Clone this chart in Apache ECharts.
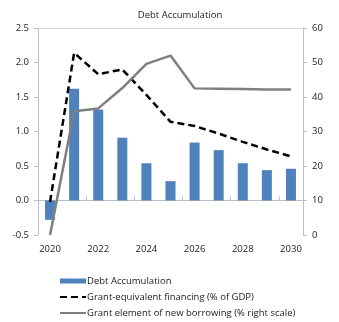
<!DOCTYPE html>
<html><head><meta charset="utf-8">
<script src="https://cdn.jsdelivr.net/npm/echarts@6/dist/echarts.min.js"></script>
<style>html,body{margin:0;padding:0;background:#fff}#c{width:339px;height:322px}</style>
</head><body><div id="c"></div>
<script>
const years = ['2020','2021','2022','2023','2024','2025','2026','2027','2028','2029','2030'];
const debtAccumulation = [-0.28, 1.62, 1.32, 0.91, 0.54, 0.28, 0.84, 0.73, 0.54, 0.44, 0.46];
const grantEquivalent = [-0.02, 2.14, 1.83, 1.90, 1.53, 1.14, 1.08, 0.97, 0.85, 0.74, 0.64];
const grantElement = [0, 35.9, 36.7, 42.6, 49.6, 52.0, 42.5, 42.4, 42.3, 42.2, 42.2];
const leftTicks = {min: -0.5, max: 2.5, interval: 0.5};
const rightTicks = {min: 0, max: 60, interval: 10};

const font = 'Open Sans';
const fs = 9.5;
const chart = echarts.init(document.getElementById('c'));
chart.setOption({
  animation: false,
  title: {text: 'Debt Accumulation', left: 175, textAlign: 'center', top: 5,
    textStyle: {fontFamily: font, fontSize: fs, fontWeight: 'normal', color: '#222'}},
  grid: {left: 38, right: 36, top: 28, bottom: 87},
  legend: {orient: 'vertical', left: 59, top: 275, padding: 0, height: 50, itemWidth: 26, itemHeight: 5, itemGap: 4,
    textStyle: {fontFamily: font, fontSize: fs, color: '#222', padding: [0,0,0,-4], lineHeight: 12},
    data: [
      {name: 'Debt Accumulation', icon: 'rect'},
      {name: 'Grant-equivalent financing (% of GDP)', itemStyle: {opacity: 0}},
      {name: 'Grant element of new borrowing (% right scale)', itemStyle: {opacity: 0}}
    ]},
  xAxis: [
    {type: 'category', data: years, position: 'bottom',
      axisLine: {onZero: true, lineStyle: {color: '#bfbfbf', width: 1}},
      axisTick: {show: true, inside: true, length: 4, lineStyle: {color: '#bfbfbf'}},
      axisLabel: {show: false}},
    {type: 'category', data: years, position: 'bottom', gridIndex: 0,
      axisLine: {show: false, onZero: false}, axisTick: {show: false},
      axisLabel: {interval: 1, fontFamily: font, fontSize: fs, color: '#222', margin: 9}},
    {type: 'category', data: years, position: 'top', gridIndex: 0,
      axisLine: {show: true, onZero: false, lineStyle: {color: '#d9d9d9'}}, axisTick: {show: false},
      axisLabel: {show: false}}
  ],
  yAxis: [
    {type: 'value', min: leftTicks.min, max: leftTicks.max, interval: leftTicks.interval,
      axisLine: {show: true, lineStyle: {color: '#bfbfbf'}},
      axisTick: {show: true, length: 4, lineStyle: {color: '#bfbfbf'}},
      splitLine: {show: false},
      axisLabel: {fontFamily: font, fontSize: fs, color: '#222', margin: 9,
        formatter: v => v.toFixed(1)}},
    {type: 'value', min: rightTicks.min, max: rightTicks.max, interval: rightTicks.interval, position: 'right',
      axisLine: {show: true, lineStyle: {color: '#bfbfbf'}},
      axisTick: {show: true, length: 4, lineStyle: {color: '#bfbfbf'}},
      splitLine: {show: false},
      axisLabel: {fontFamily: font, fontSize: fs, color: '#222', margin: 9}}
  ],
  series: [
    {name: 'Debt Accumulation', type: 'bar', data: debtAccumulation, barWidth: 10,
      itemStyle: {color: '#4f81bd'}, xAxisIndex: 0, yAxisIndex: 0},
    {name: 'Grant-equivalent financing (% of GDP)', type: 'line', data: grantEquivalent,
      symbol: 'none', lineStyle: {color: '#000', width: 2.5, type: [7, 4]}, itemStyle: {color: '#000'},
      xAxisIndex: 0, yAxisIndex: 0},
    {name: 'Grant element of new borrowing (% right scale)', type: 'line', data: grantElement,
      symbol: 'none', lineStyle: {color: '#7f7f7f', width: 2.5}, itemStyle: {color: '#7f7f7f'},
      xAxisIndex: 0, yAxisIndex: 1}
  ]
});
</script></body></html>
